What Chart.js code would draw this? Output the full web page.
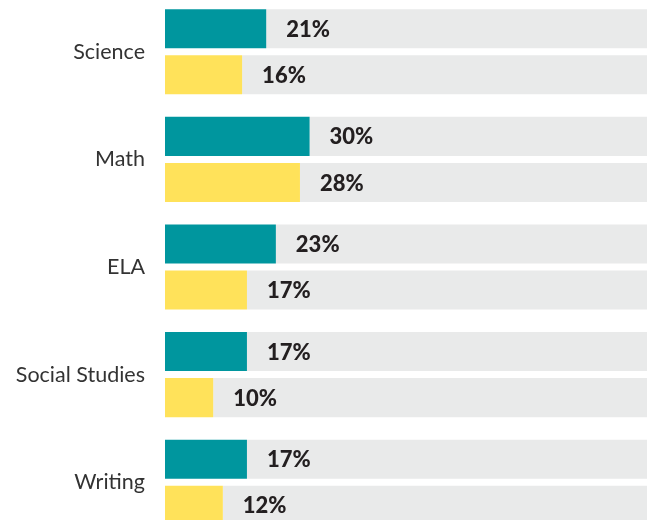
<!DOCTYPE html>
<html>
<head>
<meta charset="utf-8">
<script src="https://cdn.jsdelivr.net/npm/chart.js@4/dist/chart.umd.min.js"></script>
<style>
  html, body { margin: 0; padding: 0; background: #fff; overflow: hidden; }
  #wrap { position: absolute; left: 0; top: -2px; width: 647px; height: 538px; }
</style>
</head>
<body>
<div id="wrap"><canvas id="subjectChart"></canvas></div>
<script>
const categories = ['Science', 'Math', 'ELA', 'Social Studies', 'Writing'];
const seriesA = [21, 30, 23, 17, 17];
const seriesB = [16, 28, 17, 10, 12];
const scaleMax = 100;

const TEAL = '#00969E';
const YELLOW = '#FFE25A';
const TRACK = '#E9EAEA';

// grey remainder so each bar sits on a full-width track
const restA = seriesA.map(v => scaleMax - v);
const restB = seriesB.map(v => scaleMax - v);

const valueLabels = {
    id: 'valueLabels',
    afterDatasetsDraw(chart) {
        const ctx = chart.ctx;
        ctx.save();
        ctx.font = '900 22px Lato';
        ctx.fillStyle = '#231F20';
        ctx.textAlign = 'left';
        ctx.textBaseline = 'middle';
        chart.data.datasets.forEach((ds, di) => {
            if (!ds.showLabel) return;
            chart.getDatasetMeta(di).data.forEach((bar, i) => {
                ctx.fillText(ds.data[i] + '%', bar.x + 20, bar.y + 1);
            });
        });
        ctx.restore();
    }
};

new Chart(document.getElementById('subjectChart'), {
    type: 'bar',
    data: {
        labels: categories,
        datasets: [
            { data: seriesA, backgroundColor: TEAL, stack: 'a', showLabel: true },
            { data: restA, backgroundColor: TRACK, stack: 'a' },
            { data: seriesB, backgroundColor: YELLOW, stack: 'b', showLabel: true },
            { data: restB, backgroundColor: TRACK, stack: 'b' }
        ]
    },
    options: {
        indexAxis: 'y',
        responsive: true,
        maintainAspectRatio: false,
        animation: false,
        categoryPercentage: 0.856,
        barPercentage: 0.848,
        layout: { padding: 0 },
        plugins: {
            legend: { display: false },
            tooltip: { enabled: false }
        },
        scales: {
            x: {
                stacked: true,
                min: 0,
                max: scaleMax,
                display: false
            },
            y: {
                grid: { display: false },
                border: { display: false },
                ticks: {
                    color: '#333333',
                    font: { family: 'Lato', size: 21.5 },
                    padding: 12
                },
                afterFit(axis) {
                    axis.width = 165;
                    axis.paddingTop = 0;
                    axis.paddingBottom = 0;
                }
            }
        }
    },
    plugins: [valueLabels]
});
</script>
</body>
</html>
